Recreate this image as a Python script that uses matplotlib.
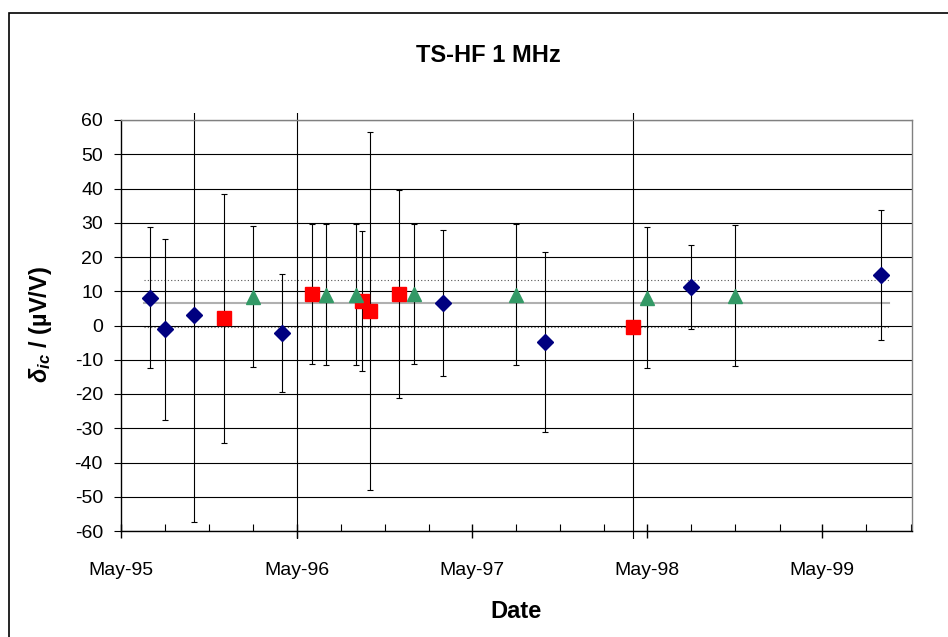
import datetime as dt
import matplotlib
matplotlib.use("Agg")
import matplotlib.pyplot as plt
import matplotlib.dates as mdates
from matplotlib.patches import Rectangle

plt.rcParams['font.family'] = ['Liberation Sans', 'DejaVu Sans']
plt.rcParams['axes.unicode_minus'] = False
plt.rcParams['mathtext.fontset'] = 'custom'
plt.rcParams['mathtext.it'] = 'Liberation Sans:italic:bold'
plt.rcParams['mathtext.rm'] = 'Liberation Sans:bold'
plt.rcParams['mathtext.bf'] = 'Liberation Sans:bold'

d = dt.datetime

# série 1 (losanges)
dates_1 = [d(1995, 7, 1), d(1995, 8, 1), d(1995, 10, 1), d(1996, 4, 1),
           d(1997, 3, 1), d(1997, 10, 1), d(1998, 8, 1), d(1999, 9, 1)]
vals_1 = [8.15, -1.1, 3.0, -2.25, 6.55, -4.8, 11.35, 14.75]
unc_1 = [20.55, 26.4, 60.3, 17.15, 21.25, 26.4, 12.25, 18.95]

# série 2 (carrés)
dates_2 = [d(1995, 12, 1), d(1996, 6, 1), d(1996, 9, 15), d(1996, 10, 1),
           d(1996, 12, 1), d(1998, 4, 1)]
vals_2 = [2.1, 9.25, 7.15, 4.15, 9.25, -0.4]
unc_2 = [36.3, 20.45, 20.35, 52.25, 30.35, 80.0]

# série 3 (triangles)
dates_3 = [d(1996, 2, 1), d(1996, 7, 1), d(1996, 9, 1), d(1997, 1, 1),
           d(1997, 8, 1), d(1998, 5, 1), d(1998, 11, 1)]
vals_3 = [8.45, 9.0, 9.0, 9.25, 9.0, 8.15, 8.7]
unc_3 = [20.5, 20.5, 20.6, 20.45, 20.5, 20.55, 20.5]

# mesure hors échelle (barre seule)
dates_4 = [d(1996, 5, 1)]
vals_4 = [0.0]
unc_4 = [80.0]

# valeur de référence et limites
ref_start, ref_end = d(1995, 6, 18), d(1999, 9, 17)
ref_mean = 6.7
ref_hi = 13.3
ref_lo = -0.4

W, H = 948, 637
fig = plt.figure(figsize=(W / 100, H / 100), dpi=100)
ax = fig.add_axes([121 / W, 1 - 531 / H, (912 - 121) / W, (531 - 120) / H])

# cadre du graphique
fig.patches.append(Rectangle((9 / W, -0.1), 2, 1.1 - 13 / H, transform=fig.transFigure,
                             fill=False, ec='black', lw=1.2))

# zone de coupure un peu plus grande que les axes (comme Excel)
clip = Rectangle((0, -0.019), 1, 1.036, transform=ax.transAxes)

series = [
    (dates_4, vals_4, unc_4, None, None, 0),
    (dates_1, vals_1, unc_1, 'D', '#000080', 8.5),
    (dates_2, vals_2, unc_2, 's', '#ff0000', 9.5),
    (dates_3, vals_3, unc_3, '^', '#339966', 10),
]
for dates, vals, unc, mk, col, ms in series:
    eb = ax.errorbar(dates, vals, yerr=unc, fmt='none', ecolor='black',
                     elinewidth=0.8, capsize=2.5, capthick=0.8, zorder=2)
    for art in list(eb[1]) + list(eb[2]):
        art.set_clip_path(clip)
    if mk:
        ax.plot(dates, vals, linestyle='none', marker=mk, color=col,
                markeredgecolor=col, markersize=ms, zorder=3)

ax.plot([ref_start, ref_end], [ref_mean, ref_mean], color='#b0b0b0', lw=1.5, zorder=1.5)
ax.plot([ref_start, ref_end], [ref_hi, ref_hi], color='#555555', lw=0.8,
        linestyle=(0, (1, 2)), zorder=1.5)
ax.plot([ref_start, ref_end], [ref_lo, ref_lo], color='#555555', lw=0.8,
        linestyle=(0, (1, 2)), zorder=1.5)

ax.set_xlim(d(1995, 5, 1), d(1999, 11, 4))
ax.set_ylim(-60, 60)
ax.set_yticks(range(-60, 61, 10))
ax.yaxis.grid(True, color='black', lw=0.8)
ax.set_axisbelow(True)

ax.xaxis.set_major_locator(mdates.MonthLocator(bymonth=5))
ax.xaxis.set_minor_locator(mdates.MonthLocator(bymonth=[2, 5, 8, 11]))
ax.xaxis.set_major_formatter(mdates.DateFormatter('%b-%y'))

ax.tick_params(axis='x', which='major', direction='inout', length=10, width=1,
               pad=17, labelsize=14)
ax.tick_params(axis='x', which='minor', direction='in', length=5, width=0.8)
ax.tick_params(axis='y', direction='out', length=5, width=0.8, pad=8, labelsize=14)

for s in ['left', 'bottom']:
    ax.spines[s].set_color('black')
    ax.spines[s].set_linewidth(1)
for s in ['top', 'right']:
    ax.spines[s].set_color('#808080')
    ax.spines[s].set_linewidth(1)

fig.text(488 / W, 1 - 55 / H, 'TS-HF 1 MHz', ha='center', va='center',
         fontsize=17, fontweight='bold')
fig.text(516 / W, 1 - 612 / H, 'Date', ha='center', va='center',
         fontsize=17, fontweight='bold')
fig.text(40 / W, 1 - 325 / H, r'$\delta_{ic}$ / (µV/V)', ha='center', va='center',
         rotation=90, fontsize=17, fontweight='bold')

fig.savefig('out.png', dpi=100)
